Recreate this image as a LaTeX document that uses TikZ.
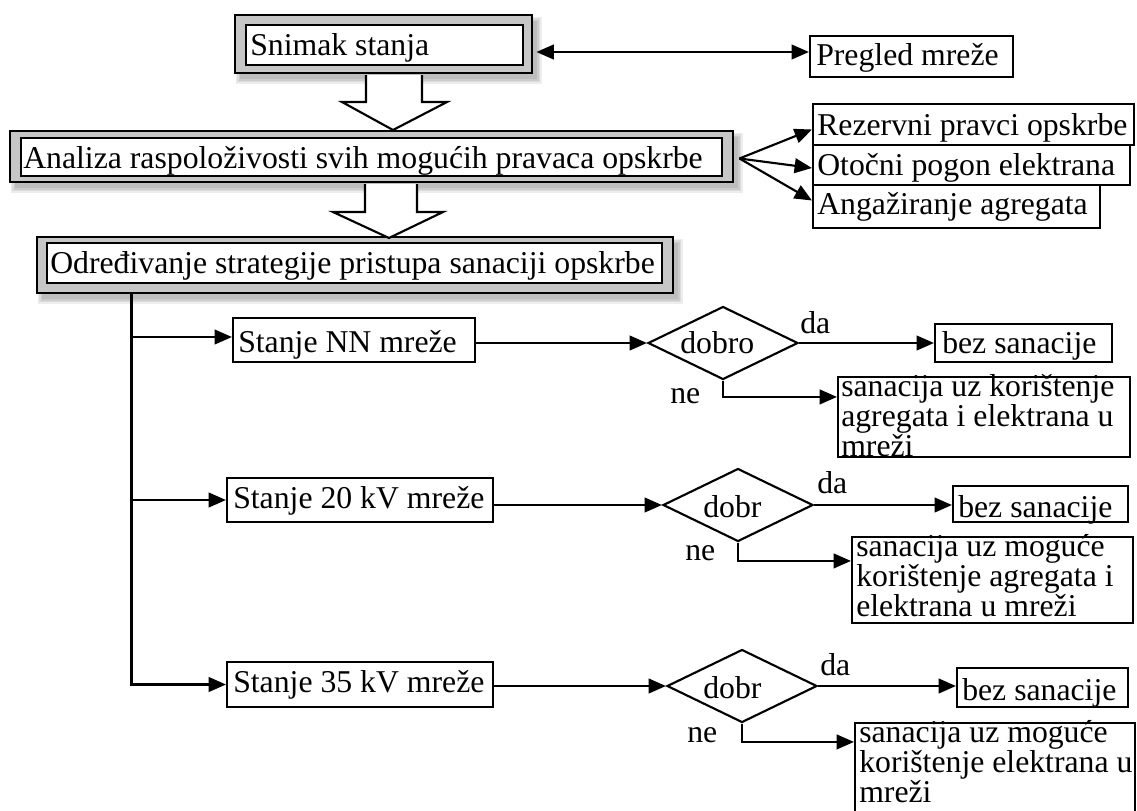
\documentclass[tikz,border=0pt]{standalone}
\usepackage{fontspec}
\setmainfont{Liberation Serif}
\usetikzlibrary{arrows.meta,calc,fit,shapes.geometric}
\newcommand\fsz{\fontsize{23.8pt}{19.3pt}\selectfont}
\newcommand\softshd[4]{\foreach \e in {0,1.5,3,4.5}{\fill[black,opacity=0.07] ({#1+5-\e},{#2+6-\e}) rectangle ({#3+5+\e},{#4+6+\e});}}
\begin{document}
\begin{tikzpicture}[x=0.75pt,y=-0.75pt,
  ln/.style={line width=1.6pt},
  arr/.style={ln,-{Triangle[length=13pt,width=11pt]}},
  arrb/.style={ln,{Triangle[length=13pt,width=11pt]}-{Triangle[length=13pt,width=11pt]}},
  box/.style={draw,ln,inner sep=0pt,fill=white},
  obox/.style={draw,line width=2.2pt,inner sep=0pt,fill=gray!45},
  ibox/.style={draw,line width=2pt,inner sep=0pt,fill=white},
  txt/.style={inner sep=0pt,anchor=base west,font=\fsz},
  mtxt/.style={inner sep=0pt,anchor=north west,font=\fsz,align=left},
  dia/.style={diamond,draw,ln,inner sep=0pt,minimum width=112.5pt,minimum height=54.75pt},
  hollow/.style={draw,ln,fill=white,line join=miter}
]
\useasboundingbox (0,0) rectangle (1137,810);
\clip (0,0) rectangle (1137,810);
\fill[white] (0,0) rectangle (1137,810);

% shadows
\softshd{235}{15}{532}{73}
\softshd{10}{131}{733}{182}
\softshd{37}{237}{673}{293}

% top block
\node[obox,fit={(235,15)(532,73)}] (snO) {};
\node[ibox,fit={(246,25)(523,65)}] (snI) {};
\node[txt] (snT) at (250,55) {Snimak stanja};

\node[box,fit={(810,36)(1013,77)}] (pre) {};
\node[txt] (preT) at (816,65) {Pregled mreže};
\coordinate (dbl) at ($(snO.east)+(3,8)$);
\draw[arrb] (dbl) -- (dbl -| pre.west);

% analiza
\node[obox,fit={(10,131)(733,182)}] (anaO) {};
\node[ibox,fit={(21,138)(722,176)}] (anaI) {};
\node[txt] (anaT) at (23,168) {Analiza raspoloživosti svih mogućih pravaca opskrbe};

\node[box,fit={(813,104)(1134,145)}] (rez) {};
\node[txt] (rezT) at (817,135) {Rezervni pravci opskrbe};
\node[box,fit={(813,145)(1130,185)}] (oto) {};
\node[txt] (otoT) at (817,175) {Otočni pogon elektrana};
\node[box,fit={(813,185)(1100,228)}] (ang) {};
\node[txt] (angT) at (817,214) {Angažiranje agregata};

\coordinate (fan) at ($(anaO.east)+(5,2)$);
\draw[arr] (fan) -- ($(rez.west)+(0,5)$);
\draw[arr] (fan) -- ($(oto.west)+(0,3)$);
\draw[arr] (fan) -- ($(ang.west)+(0,-6)$);

% odredjivanje
\node[obox,fit={(37,237)(673,293)}] (odO) {};
\node[ibox,fit={(47,243)(662,283)}] (odI) {};
\node[txt] (odT) at (50,273) {Određivanje strategije pristupa sanaciji opskrbe};

% hollow block arrows
\draw[hollow] (366,75) -- (366,102) -- (342,102) -- (393,130) -- (447,102) -- (422,102) -- (422,75);
\draw[hollow] (365,184) -- (365,212) -- (333,212) -- (389,238) -- (443,212) -- (417,212) -- (417,184);

\coordinate (trunk) at ($(odO.south west)+(96,0)$);

% NN
\node[box,fit={(233,318)(475,362)}] (nn) {};
\node[txt] (nnT) at (238,352) {Stanje NN mreže};
\node[dia] (d1) at (723,343) {};
\node[txt] (d1T) at (680,353) {dobro};
\node[txt] (d1da) at (800,333) {da};
\node[box,fit={(935,324)(1112,362)}] (b1) {};
\node[txt] (b1T) at (942,353) {bez sanacije};
\node[txt] (d1ne) at (670,403) {ne};
\node[box,fit={(838,377)(1130,457)}] (s1) {};
\node[mtxt] (s1T) at (841,374) {sanacija uz korištenje\\agregata i elektrana u\\mreži};
\coordinate (nnIn) at ($(nn.west)+(0,-3)$);
\draw[arr] (trunk |- nnIn) -- (nnIn);
\draw[arr] (nn.east |- d1.west) -- (d1.west);
\draw[arr] (d1.east) -- (d1.east -| b1.west);
\draw[arr] (d1.south) |- ($(s1.north west)+(0,21)$);

% 20 kV
\node[box,fit={(227,478)(493,522)}] (s20) {};
\node[txt] (s20T) at (233,508) {Stanje 20 kV mreže};
\node[dia] (d2) at (738,505) {};
\node[txt] (d2T) at (703,517) {dobr};
\node[txt] (d2da) at (817,493) {da};
\node[box,fit={(953,486)(1128,522)}] (b2) {};
\node[txt] (b2T) at (958,517) {bez sanacije};
\node[txt] (d2ne) at (685,560) {ne};
\node[box,fit={(852,537)(1133,623)}] (s2) {};
\node[mtxt] (s2T) at (856,534) {sanacija uz moguće\\korištenje agregata i\\elektrana u mreži};
\draw[arr] (trunk |- s20.west) -- (s20.west);
\draw[arr] (s20.east |- d2.west) -- (d2.west);
\draw[arr] (d2.east) -- (d2.east -| b2.west);
\draw[arr] (d2.south) |- ($(s2.north west)+(0,25)$);

% 35 kV
\node[box,fit={(227,662)(493,707)}] (s35) {};
\node[txt] (s35T) at (233,692) {Stanje 35 kV mreže};
\node[dia] (d3) at (742,686) {};
\node[txt] (d3T) at (703,698) {dobr};
\node[txt] (d3da) at (820,675) {da};
\node[box,fit={(957,668)(1128,707)}] (b3) {};
\node[txt] (b3T) at (962,700) {bez sanacije};
\node[txt] (d3ne) at (687,742) {ne};
\node[box,fit={(855,723)(1135,840)}] (s3) {};
\node[mtxt] (s3T) at (859,720) {sanacija uz moguće\\korištenje elektrana u\\mreži};
\draw[arr] (trunk) |- (s35.west);
\draw[arr] (s35.east |- d3.west) -- (d3.west);
\draw[arr] (d3.east) -- (d3.east -| b3.west);
\draw[arr] (d3.south) |- ($(s3.north west)+(0,20)$);
\end{tikzpicture}
\end{document}
